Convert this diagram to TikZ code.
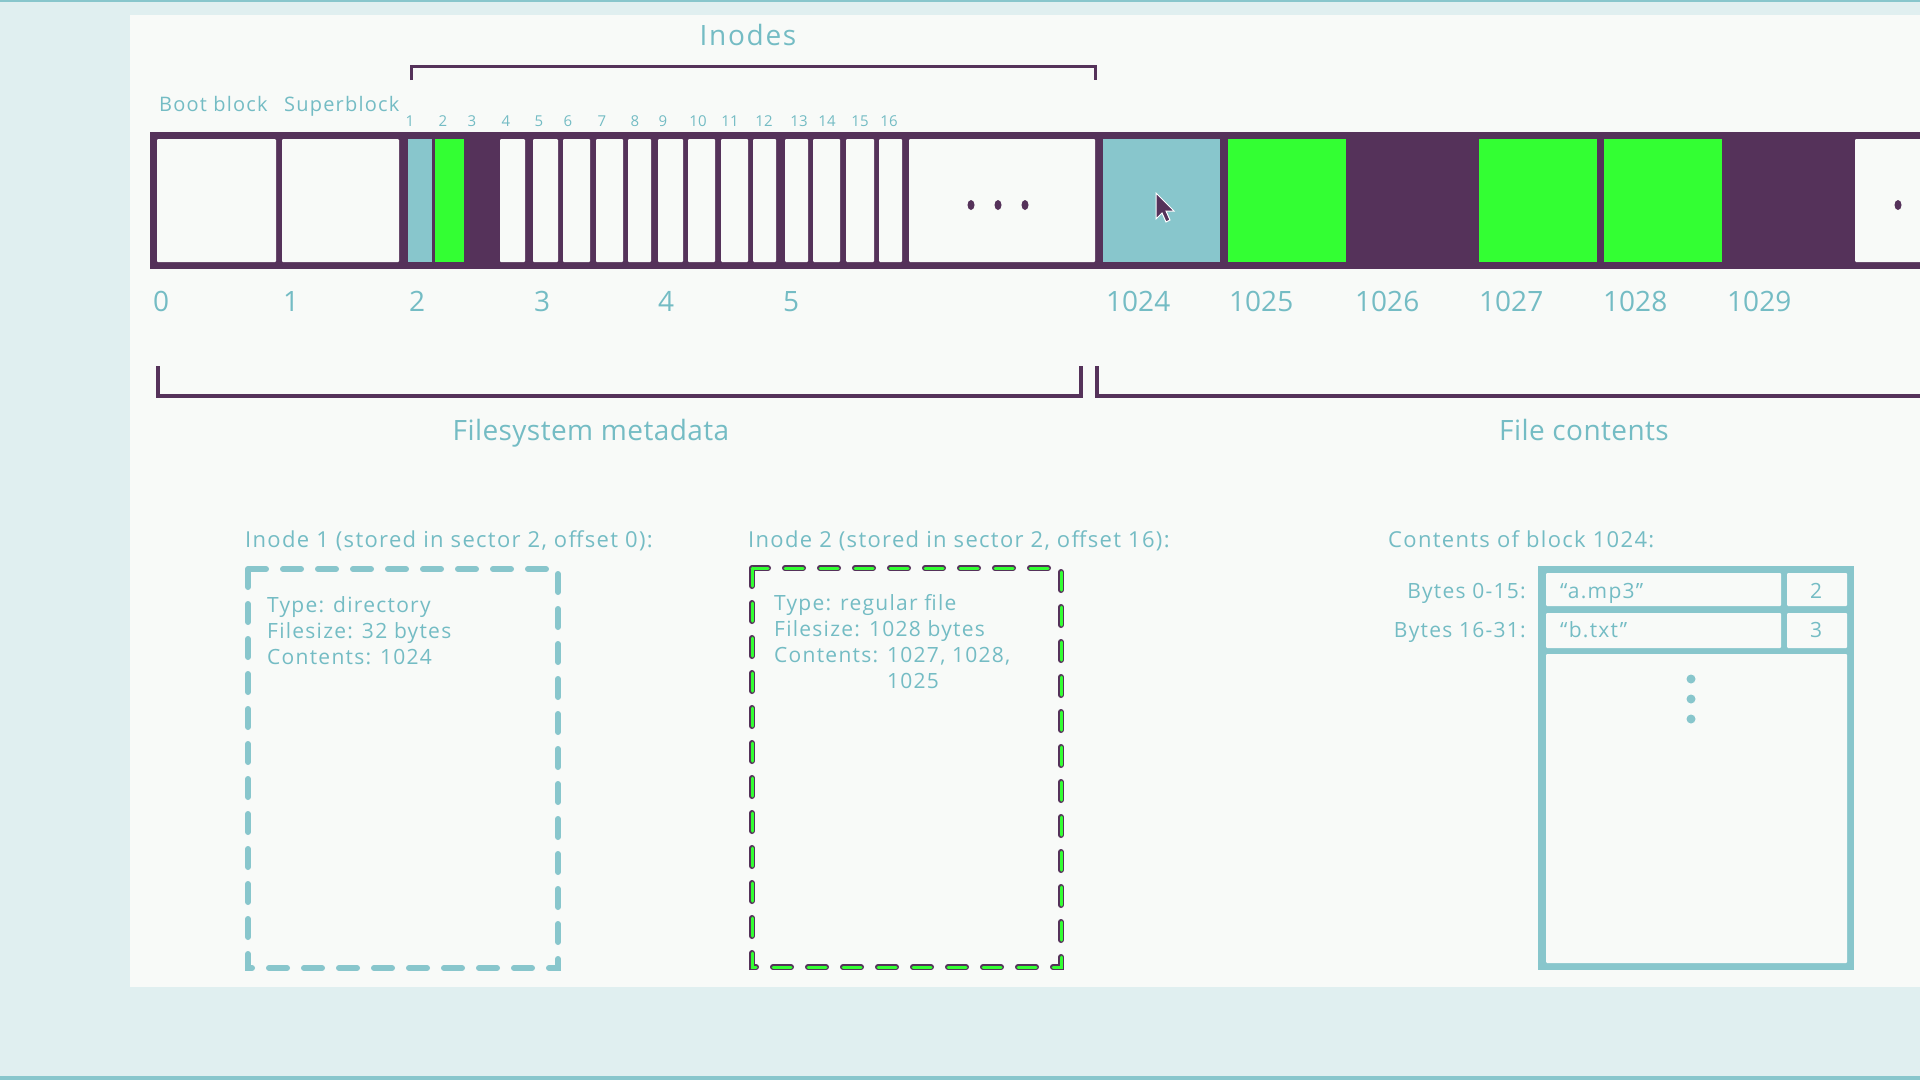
\documentclass[tikz,border=0pt]{standalone}
\usepackage{fontspec}
\setmainfont{Open Sans}
\newfontfamily\spacedfont[LetterSpace=6.0]{Open Sans}
\newfontfamily\widefont[LetterSpace=1.5]{Open Sans}
\definecolor{diskpurple}{HTML}{55325A}
\definecolor{tealfill}{HTML}{88C6CC}
\definecolor{tealtext}{HTML}{74BCC4}
\definecolor{usedgreen}{HTML}{33FF33}
\definecolor{paper}{HTML}{F8FAF8}
\definecolor{dither}{RGB}{224,239,240}
\tikzset{
	lbl/.style={text=tealtext, inner sep=0pt, anchor=base west, font=\spacedfont\fontsize{21}{26}\selectfont},
	headlbl/.style={lbl, font=\spacedfont\fontsize{22}{26}\selectfont},
	biglbl/.style={text=tealtext, inner sep=0pt, anchor=base, font=\widefont\fontsize{28}{32}\selectfont},
	tinylbl/.style={text=tealtext, inner sep=0pt, anchor=base, font=\fontsize{15}{18}\selectfont},
	seclbl/.style={biglbl, anchor=base west, font=\fontsize{28}{32}\selectfont},
	cell/.style={fill=paper, rounded corners=1pt},
	dashbox/.style={line width=6pt, line cap=round, dash pattern=on 18pt off 17pt},
	brace/.style={diskpurple, line width=4pt}
}

\begin{document}
\begin{tikzpicture}[x=1pt, y=-1pt]
			
			\fill[dither] (0,0) rectangle (1920,1080);
			\fill[paper] (130,15) rectangle (1920,987);
			\fill[tealfill] (0,0) rectangle (1920,2);
			\fill[tealfill] (0,1076) rectangle (1920,1080);
			\useasboundingbox (0,0) rectangle (1920,1080);
			
			% the disk
			\fill[diskpurple] (150,132) rectangle (1930,269);
			\foreach \a/\b in {157/276, 282/399, 500/525, 533/558, 563/590, 596/623, 628/651, 658/683, 688/715, 721/748, 753/776, 785/808, 813/840, 846/874, 879/902, 909/1095, 1855/1930}
				\fill[cell] (\a,139) rectangle (\b,262);
			\fill[tealfill] (408,139) rectangle (432,262);
			\fill[usedgreen] (435,139) rectangle (464,262);
			\fill[tealfill] (1103,139) rectangle (1220,262);
			\foreach \a in {1228, 1479, 1604}
				\fill[usedgreen] (\a,139) rectangle (\a+118,262);
			\foreach \x in {971, 998, 1025, 1898}
				\fill[diskpurple] (\x,205) ellipse (3.5 and 5);
			\filldraw[fill=diskpurple, draw=white, line width=1pt] (1156,193) -- ++(0,26) -- ++(6,-6) -- ++(4,9) -- ++(4,-2) -- ++(-4,-9) -- ++(8,0) -- cycle;
			
			% labels over the disk
			\node[biglbl, font=\spacedfont\fontsize{28}{32}\selectfont] (inodes) at (748,45) {Inodes};
			\draw[diskpurple, line width=3pt] (411,80) -- (411,66) -- (1095,66) -- (1095,80);
			\node[lbl, font=\spacedfont\fontsize{20}{24}\selectfont] (boot) at (159,111) {Boot block};
			\node[lbl, font=\spacedfont\fontsize{20}{24}\selectfont] (super) at (284,111) {Superblock};
			\foreach \n/\x in {1/410, 2/443, 3/472, 4/506, 5/539, 6/568, 7/602, 8/635, 9/663, 10/698, 11/730, 12/764, 13/799, 14/827, 15/860, 16/889}
				\node[tinylbl] (inum\n) at (\x,126) {\n};
			
			% sector numbers
			\foreach \s/\x in {0/153, 1/283, 2/409, 3/534, 4/658, 5/783, 1024/1106, 1025/1229, 1026/1355, 1027/1479, 1028/1603, 1029/1727}
				\node[seclbl] (sec\s) at (\x,311) {\s};
			
			% braces under the disk
			\draw[brace] (158,366) -- (158,396) -- (1081,396) -- (1081,366);
			\draw[brace] (1097,366) -- (1097,396) -- (1930,396);
			\node[biglbl] (meta) at (591,440) {Filesystem metadata};
			\node[biglbl] (contents) at (1584,440) {File contents};
			
			% inode 1
			\node[headlbl] (inodeA) at (245,547) {Inode 1 (stored in sector 2, offset 0):};
			\draw[dashbox, tealfill] (248,569) rectangle (558,968);
			\node[lbl] (inodeAtype) at (267,612) {Type: directory};
			\node[lbl] (inodeAsize) at (267,638) {Filesize: 32 bytes};
			\node[lbl] (inodeAblk) at (267,664) {Contents: 1024};
			
			% inode 2
			\node[headlbl] (inodeB) at (748,547) {Inode 2 (stored in sector 2, offset 16):};
			\draw[dashbox, diskpurple] (752,568) rectangle (1061,967);
			\draw[dashbox, usedgreen, line width=3pt] (752,568) rectangle (1061,967);
			\node[lbl] (inodeBtype) at (774,610) {Type: regular file};
			\node[lbl] (inodeBsize) at (774,636) {Filesize: 1028 bytes};
			\node[lbl] (inodeBblk) at (774,662) {Contents: 1027, 1028,};
			\node[lbl] (inodeBblk2) at (774,688) {\phantom{Contents: }1025};
			
			% block 1024
			\node[headlbl] (blk) at (1388,547) {Contents of block 1024:};
			\fill[tealfill] (1538,566) rectangle (1854,970);
			\fill[cell] (1546,573) rectangle (1781,606);
			\fill[cell] (1787,573) rectangle (1847,606);
			\fill[cell] (1546,613) rectangle (1781,648);
			\fill[cell] (1787,613) rectangle (1847,648);
			\fill[cell] (1546,654) rectangle (1847,963);
			\node[lbl, anchor=base east] (bytesA) at (1526,598) {Bytes 0-15:};
			\node[lbl, anchor=base east] (bytesB) at (1526,637) {Bytes 16-31:};
			\node[lbl] (nameA) at (1560,598) {“a.mp3”};
			\node[lbl] (nameB) at (1560,637) {“b.txt”};
			\node[lbl, anchor=base] (numA) at (1816,598) {2};
			\node[lbl, anchor=base] (numB) at (1816,637) {3};
			\foreach \y in {679, 699, 719}
				\fill[tealfill] (1691,\y) circle (4.5);
		\end{tikzpicture}
\end{document}
